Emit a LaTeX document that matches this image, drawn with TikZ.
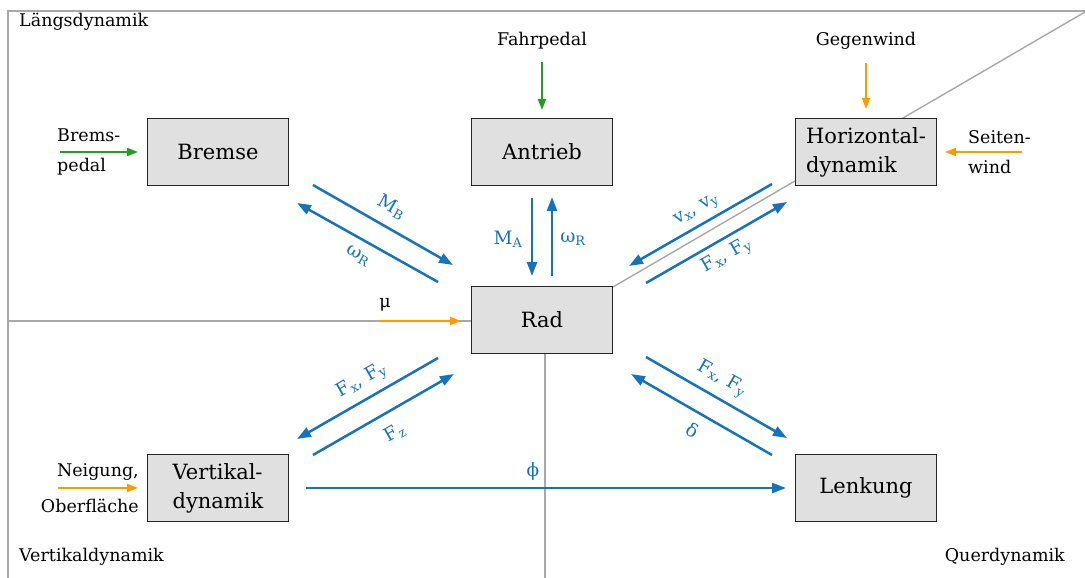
\documentclass[tikz,border=0pt]{standalone}
\usepackage{fontspec}
\setmainfont{DejaVu Serif}
\usetikzlibrary{arrows.meta}
\definecolor{flow}{RGB}{21,115,190}
\definecolor{pedalgreen}{RGB}{34,158,34}
\definecolor{env}{RGB}{255,153,0}
\definecolor{frame}{RGB}{168,168,168}
\definecolor{boxfill}{RGB}{224,224,224}

\begin{document}
\begin{tikzpicture}[x=1pt,y=-1pt,
  block/.style={draw=black!85, line width=1.7pt, fill=boxfill,
    minimum width=141pt, minimum height=67pt, inner sep=0pt,
    align=left, font=\fontsize{21}{29}\selectfont},
  lbl/.style={inner sep=0pt, font=\fontsize{17.5}{30}\selectfont},
  sigtxt/.style={inner sep=0pt, text=flow, font=\fontsize{18.5}{20}\selectfont},
  sig/.style={draw=flow, line width=2.5pt, -{Triangle[length=14pt,width=10pt]}},
  inp/.style={line width=2pt, -{Triangle[length=11pt,width=8pt]}},
  region/.style={draw=frame, line width=1.4pt}
]
\useasboundingbox (0,0) rectangle (1085,578);

% region boundaries
\coordinate (tl) at (8,11);
\coordinate (tr) at (1085,11);
\coordinate (bl) at (8,578);
\coordinate (diagEnd) at (1085,12);
\coordinate (vertEnd) at (545,578);
\coordinate (horEnd) at (8,321);
\coordinate (radNE) at (613,287);
\draw[region] (tr) -- (tl) -- (bl);
\draw[region] (radNE) -- (diagEnd);

% blocks
\node[block] (bremse) at (218,152) {Bremse};
\node[block] (antrieb) at (542,152) {Antrieb};
\node[block] (horiz) at (866,152) {Horizontal-\\dynamik};
\node[block] (rad) at (542,320) {Rad};
\node[block] (vert) at (218,488) {Vertikal-\\dynamik};
\node[block] (lenk) at (866,488) {Lenkung};

\draw[region] (horEnd) -- (rad.west |- horEnd);
\draw[region] (vertEnd |- rad.south) -- (vertEnd);

% region names
\node[lbl, anchor=west] (lLaengs) at (19,22) {Längsdynamik};
\node[lbl, anchor=west] (lVert) at (19,557) {Vertikaldynamik};
\node[lbl, anchor=east] (lQuer) at (1065,557) {Querdynamik};

% external inputs
\node[lbl] (fahrpedal) at (542,41) {Fahrpedal};
\node[lbl] (gegenwind) at (866,41) {Gegenwind};
\node[lbl, align=left, anchor=west] (bpedal) at (57,152) {Brems-\\pedal};
\node[lbl, align=left, anchor=west] (seitenwind) at (968,152) {Seiten-\\wind};
\node[lbl, align=right, anchor=east, font=\fontsize{17.5}{36}\selectfont] (neigung) at (139,488) {Neigung,\\Oberfläche};
\node[lbl] (mu) at (385,305) {μ};

\coordinate (fpS) at (542,62);   \coordinate (fpE) at (542,110);
\coordinate (gwS) at (866,63);   \coordinate (gwE) at (866,109);
\coordinate (bpS) at (60,152);   \coordinate (bpE) at (138,152);
\coordinate (swS) at (1022,152); \coordinate (swE) at (945,152);
\coordinate (neS) at (58,488);   \coordinate (neE) at (138,488);
\coordinate (muS) at (380,321);  \coordinate (muE) at (461,321);

\draw[inp, draw=pedalgreen] (fpS) -- (fpE);
\draw[inp, draw=pedalgreen] (bpS) -- (bpE);
\draw[inp, draw=env] (gwS) -- (gwE);
\draw[inp, draw=env] (swS) -- (swE);
\draw[inp, draw=env] (neS) -- (neE);
\draw[inp, draw=env] (muS) -- (muE);

% signal flows between blocks
\coordinate (mbS) at (313,185);  \coordinate (mbE) at (453,265);
\coordinate (wlS) at (438,282);  \coordinate (wlE) at (297,203);
\coordinate (maS) at (532,198);  \coordinate (maE) at (532,276);
\coordinate (wmS) at (552,276);  \coordinate (wmE) at (552,197);
\coordinate (vvS) at (772,184);  \coordinate (vvE) at (629,266);
\coordinate (fhS) at (646,283);  \coordinate (fhE) at (787,202);
\coordinate (fvS) at (438,358);  \coordinate (fvE) at (297,439);
\coordinate (fzS) at (313,455);  \coordinate (fzE) at (454,374);
\coordinate (flS) at (646,357);  \coordinate (flE) at (787,438);
\coordinate (dlS) at (772,455);  \coordinate (dlE) at (631,374);
\coordinate (phS) at (306,488);  \coordinate (phE) at (786,488);

\draw[sig] (mbS) -- (mbE);
\draw[sig] (wlS) -- (wlE);
\draw[sig] (maS) -- (maE);
\draw[sig] (wmS) -- (wmE);
\draw[sig] (vvS) -- (vvE);
\draw[sig] (fhS) -- (fhE);
\draw[sig] (fvS) -- (fvE);
\draw[sig] (fzS) -- (fzE);
\draw[sig] (flS) -- (flE);
\draw[sig] (dlS) -- (dlE);
\draw[sig] (phS) -- (phE);

% signal names
\node[sigtxt, rotate=-29.7] (tMB) at (392,207) {M\textsubscript{B}};
\node[sigtxt, rotate=-29.7] (tWl) at (358,256) {ω\textsubscript{R}};
\node[sigtxt] (tMA) at (508,239) {M\textsubscript{A}};
\node[sigtxt] (tWm) at (573,239) {ω\textsubscript{R}};
\node[sigtxt, rotate=29.7] (tVV) at (697,211) {v\textsubscript{x}, v\textsubscript{y}};
\node[sigtxt, rotate=29.7] (tFH) at (727,256) {F\textsubscript{x}, F\textsubscript{y}};
\node[sigtxt, rotate=29.7] (tFV) at (362,381) {F\textsubscript{x}, F\textsubscript{y}};
\node[sigtxt, rotate=29.7] (tFZ) at (395,433) {F\textsubscript{z}};
\node[sigtxt, rotate=-29.7] (tFL) at (722,379) {F\textsubscript{x}, F\textsubscript{y}};
\node[sigtxt, rotate=-29.7] (tDL) at (693,430) {δ};
\node[sigtxt] (tPhi) at (533,471) {ϕ};
\end{tikzpicture}
\end{document}
